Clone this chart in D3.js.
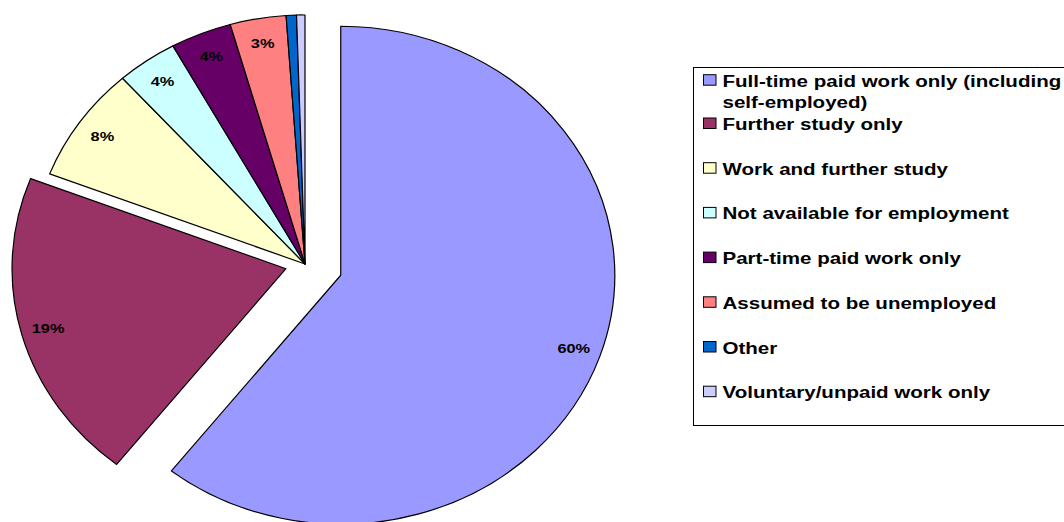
<!DOCTYPE html>
<html>
<head>
<meta charset="utf-8">
<script src="https://cdn.jsdelivr.net/npm/d3@7"></script>
<style>
	body { margin: 0; background: #fff; }
	text { font-family: Arial, "Liberation Sans", sans-serif; font-weight: bold; fill: #000; }
</style>
</head>
<body>
<div id="chart"></div>
<script>
// categories, in the order they go round the pie (clockwise from 12 o'clock)
const categories = [
	"Full-time paid work only (including self-employed)",
	"Further study only",
	"Work and further study",
	"Not available for employment",
	"Part-time paid work only",
	"Assumed to be unemployed",
	"Other",
	"Voluntary/unpaid work only"
];
// share of each slice (percent)
const shares = [60.6, 20.3, 7.5, 3.6, 3.6, 3.3, 0.6, 0.5];
// the data labels as printed on the chart
const pctLabels = ["60%", "19%", "8%", "4%", "4%", "3%", "", ""];
// how far each slice is pulled out (fraction of radius)
const explode = [0.138, 0.072, 0, 0, 0, 0, 0, 0];
const colors = ["#9999FF", "#993366", "#FFFFCC", "#CCFFFF", "#660066", "#FF8080", "#0066CC", "#CCCCFF"];
// legend text lines
const legendLines = [
	["Full-time paid work only (including", "self-employed)"],
	["Further study only"],
	["Work and further study"],
	["Not available for employment"],
	["Part-time paid work only"],
	["Assumed to be unemployed"],
	["Other"],
	["Voluntary/unpaid work only"]
];

const width = 1064, height = 522;
const center = {x: 305, y: 264};
const rx = 274, ry = 249;
const stretch = 1.26; // text is drawn wide, like the picture

const svg = d3.select("#chart").append("svg")
	.attr("width", width)
	.attr("height", height);

drawPie(svg);
drawLegend(svg);

function drawPie(svg) {
	const pie = d3.pie().sort(null).value(d => d);
	const arcs = pie(shares);
	const arc = d3.arc().innerRadius(0).outerRadius(1);
	const labelArc = d3.arc().innerRadius(0.9).outerRadius(0.9);

	const offset = (d, i) => {
		const mid = (d.startAngle + d.endAngle) / 2;
		return [Math.sin(mid) * explode[i], -Math.cos(mid) * explode[i]];
	};

	svg.append("g")
		.selectAll("path")
		.data(arcs)
		.enter()
		.append("path")
		.attr("transform", (d, i) => {
			const o = offset(d, i);
			return `translate(${center.x + o[0] * rx}, ${center.y + o[1] * ry}) scale(${rx}, ${ry})`;
		})
		.attr("d", arc)
		.attr("fill", (d, i) => colors[i])
		.attr("stroke", "#000")
		.attr("stroke-width", 1.2)
		.attr("stroke-linejoin", "round")
		.attr("vector-effect", "non-scaling-stroke");

	svg.append("g")
		.selectAll("text")
		.data(arcs)
		.enter()
		.append("text")
		.attr("transform", (d, i) => {
			const o = offset(d, i);
			const c = labelArc.centroid(d);
			const x = center.x + (c[0] + o[0]) * rx;
			const y = center.y + (c[1] + o[1]) * ry;
			return `translate(${x}, ${y}) scale(${stretch}, 1)`;
		})
		.attr("text-anchor", "middle")
		.attr("dy", "0.36em")
		.style("font-size", "13px")
		.text((d, i) => pctLabels[i]);
}

function drawLegend(svg) {
	const box = {x: 693.5, y: 67.5, w: 400, h: 358};
	const firstBase = 86.7, secondBase = 130, step = 44.7, lineGap = 21;

	const lg = svg.append("g");
	lg.append("rect")
		.attr("x", box.x)
		.attr("y", box.y)
		.attr("width", box.w)
		.attr("height", box.h)
		.attr("fill", "#fff")
		.attr("stroke", "#000")
		.attr("stroke-width", 1);

	const baseline = i => i === 0 ? firstBase : secondBase + (i - 1) * step;

	const items = lg.selectAll("g.item")
		.data(legendLines)
		.enter()
		.append("g")
		.attr("class", "item");

	items.append("rect")
		.attr("x", 703.5)
		.attr("y", (d, i) => baseline(i) - 12)
		.attr("width", 12.5)
		.attr("height", 10.5)
		.attr("fill", (d, i) => colors[i])
		.attr("stroke", "#000")
		.attr("stroke-width", 1);

	items.each(function(lines, i) {
		d3.select(this).selectAll("text")
			.data(lines)
			.enter()
			.append("text")
			.attr("transform", (t, j) => `translate(722.5, ${baseline(i) + j * lineGap}) scale(${stretch}, 1)`)
			.style("font-size", "16.3px")
			.text(t => t);
	});
}
</script>
</body>
</html>
